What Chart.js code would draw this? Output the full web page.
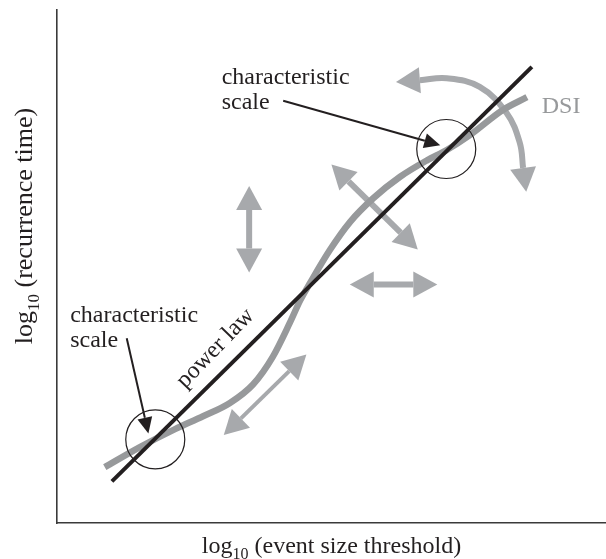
<!DOCTYPE html>
<html>
<head>
<meta charset="utf-8">
<script src="https://cdn.jsdelivr.net/npm/chart.js@4.4.1/dist/chart.umd.min.js"></script>
<style>
  html, body { margin: 0; padding: 0; background: #fff; }
  #chart { display: block; }
</style>
</head>
<body>
<canvas id="chart" width="606" height="559"></canvas>
<script>
// values; both axes run 0..10 (the original has no ticks)
const powerLawX = [1.0, 8.65];
const powerLawY = [0.81, 8.89];

const dsiX = [0.87, 1.51, 2.15, 2.66, 3.15, 3.57, 3.93, 4.24, 4.43, 4.61, 4.97, 5.34, 5.76, 6.25, 6.74, 7.10, 7.52, 8.12, 8.56];
const dsiY = [1.09, 1.48, 1.83, 2.08, 2.34, 2.70, 3.24, 3.90, 4.34, 4.68, 5.32, 5.87, 6.33, 6.75, 7.07, 7.27, 7.56, 8.05, 8.30];

// the two "characteristic scale" circles
const scaleX = [1.79, 7.09];
const scaleY = [1.63, 7.29];

// grey double arrows (shaft ends, the heads go on top of them)
const upDownX = [3.50, 3.50];  const upDownY = [6.10, 5.35];
const slantX = [5.31, 6.26];   const slantY = [6.66, 5.66];
const sideX = [5.77, 6.49];    const sideY = [4.65, 4.65];
const lowX = [3.35, 4.23];     const lowY = [2.04, 2.96];
const turnX = [6.61, 7.10, 7.70, 8.19, 8.43, 8.49];
const turnY = [8.63, 8.67, 8.50, 7.99, 7.41, 6.92];

// pointers from the labels to the circles
const pointTopX = [4.12, 6.70]; const pointTopY = [8.23, 7.45];
const pointLowX = [1.27, 1.60]; const pointLowY = [3.60, 2.05];

const notes = [
  { text: 'characteristic', x: 3.00, y: 8.56 },
  { text: 'scale', x: 3.00, y: 8.07 },
  { text: 'characteristic', x: 0.24, y: 3.92 },
  { text: 'scale', x: 0.24, y: 3.43 },
  { text: 'DSI', x: 8.83, y: 7.99, color: '#97999b' },
  { text: 'power law', x: 2.97, y: 3.32, angle: -46, align: 'center' }
];

const xTitle = ' (event size threshold)';
const yTitle = ' (recurrence time)';

const ink = '#231f20';
const grey = '#a7a9ac';
const font = '"Liberation Serif", "Times New Roman", serif';

const pts = (xs, ys) => xs.map((x, i) => ({ x: x, y: ys[i] }));

function line(xs, ys, color, width, order, extra) {
  return Object.assign({
    data: pts(xs, ys),
    showLine: true,
    borderColor: color,
    backgroundColor: color,
    borderWidth: width,
    borderCapStyle: 'butt',
    pointRadius: 0,
    tension: 0,
    order: order
  }, extra || {});
}

const greyHead = { len: 24, half: 13, color: grey };
const inkHead = { len: 16, half: 7.5, color: ink };

function drawLogTitle(ctx, rest, cx, cy, size) {
  const big = size + 'px ' + font, small = Math.round(size * 0.65) + 'px ' + font;
  ctx.font = big;
  const w1 = ctx.measureText('log').width;
  const w3 = ctx.measureText(rest).width;
  ctx.font = small;
  const w2 = ctx.measureText('10').width;
  let x = cx - (w1 + w2 + w3) / 2;
  ctx.textAlign = 'left';
  ctx.textBaseline = 'alphabetic';
  ctx.font = big; ctx.fillText('log', x, cy); x += w1;
  ctx.font = small; ctx.fillText('10', x, cy + size * 0.27); x += w2;
  ctx.font = big; ctx.fillText(rest, x, cy);
}

const diagram = {
  id: 'diagram',
  afterDatasetsDraw(chart) {
    const ctx = chart.ctx;
    const sx = chart.scales.x, sy = chart.scales.y;
    ctx.save();

    // arrow heads at the ends of the marked datasets
    chart.data.datasets.forEach((ds, i) => {
      if (!ds.heads) return;
      const p = chart.getDatasetMeta(i).data;
      const ends = [];
      if (ds.heads.start) ends.push([p[0], p[1]]);
      if (ds.heads.end) ends.push([p[p.length - 1], p[p.length - 2]]);
      ends.forEach(([a, b]) => {
        let dx = a.x - b.x, dy = a.y - b.y;
        const d = Math.hypot(dx, dy);
        dx /= d; dy /= d;
        const h = ds.heads.shape;
        ctx.fillStyle = h.color;
        ctx.beginPath();
        ctx.moveTo(a.x + dx * h.len, a.y + dy * h.len);
        ctx.lineTo(a.x - dy * h.half, a.y + dx * h.half);
        ctx.lineTo(a.x + dy * h.half, a.y - dx * h.half);
        ctx.closePath();
        ctx.fill();
      });
    });

    // annotations
    notes.forEach(n => {
      ctx.save();
      ctx.translate(sx.getPixelForValue(n.x), sy.getPixelForValue(n.y));
      if (n.angle) ctx.rotate(n.angle * Math.PI / 180);
      ctx.font = '24px ' + font;
      ctx.fillStyle = n.color || ink;
      ctx.textAlign = n.align || 'left';
      ctx.textBaseline = 'alphabetic';
      ctx.fillText(n.text, 0, 0);
      ctx.restore();
    });

    // axis titles with a real subscript
    const area = chart.chartArea;
    ctx.fillStyle = ink;
    drawLogTitle(ctx, xTitle, (area.left + area.right) / 2, area.bottom + 30, 24);
    ctx.translate(area.left - 25, 226);
    ctx.rotate(-Math.PI / 2);
    drawLogTitle(ctx, yTitle, 0, 0, 26);
    ctx.restore();
  }
};

const chart = new Chart(document.getElementById('chart'), {
  type: 'scatter',
  data: {
    datasets: [
      line(pointTopX, pointTopY, ink, 2, 0, { heads: { end: true, shape: inkHead } }),
      line(pointLowX, pointLowY, ink, 2, 0, { heads: { end: true, shape: inkHead } }),
      {
        data: pts(scaleX, scaleY),
        showLine: false,
        pointStyle: 'circle',
        pointRadius: 29.5,
        pointHoverRadius: 29.5,
        borderColor: ink,
        borderWidth: 1.2,
        backgroundColor: 'rgba(0,0,0,0)',
        order: 1
      },
      line(powerLawX, powerLawY, ink, 4, 2),
      line(dsiX, dsiY, '#97999b', 6.5, 3, { cubicInterpolationMode: 'monotone' }),
      line(upDownX, upDownY, grey, 6, 4, { heads: { start: true, end: true, shape: greyHead } }),
      line(slantX, slantY, grey, 6, 4, { heads: { start: true, end: true, shape: greyHead } }),
      line(sideX, sideY, grey, 6, 4, { heads: { start: true, end: true, shape: greyHead } }),
      line(lowX, lowY, grey, 4, 4, { heads: { start: true, end: true, shape: greyHead } }),
      line(turnX, turnY, grey, 6, 4, { tension: 0.4, heads: { start: true, end: true, shape: greyHead } })
    ]
  },
  options: {
    responsive: false,
    animation: false,
    layout: { autoPadding: false, padding: { left: 57, top: 10, right: 0, bottom: 36 } },
    plugins: { legend: { display: false }, tooltip: { enabled: false } },
    events: [],
    scales: {
      x: {
        type: 'linear', min: 0, max: 10,
        grid: { display: false, drawTicks: false },
        ticks: { display: false },
        border: { display: true, color: '#3a3a3a', width: 1.6 }
      },
      y: {
        type: 'linear', min: 0, max: 10,
        grid: { display: false, drawTicks: false },
        ticks: { display: false },
        border: { display: true, color: '#3a3a3a', width: 1.6 }
      }
    }
  },
  plugins: [diagram]
});
chart.draw();
</script>
</body>
</html>
